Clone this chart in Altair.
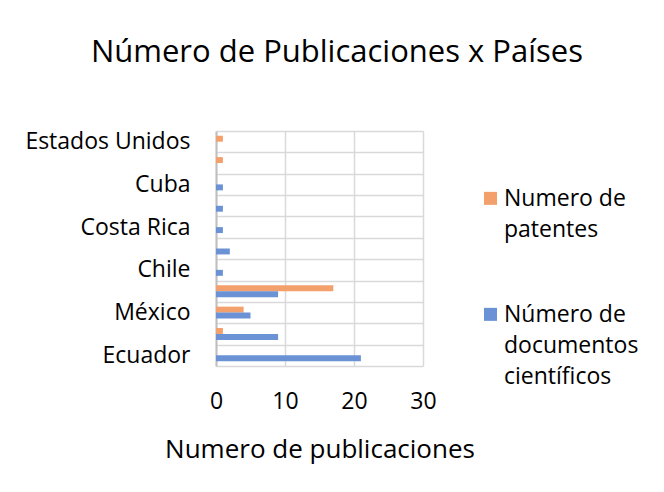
import json
import altair as alt
import pandas as pd

# ---- data (top to bottom, as in the picture) ----
countries = ["Estados Unidos", "España", "Cuba", "Colombia", "Costa Rica",
             "Argentina", "Chile", "Brasil", "México", "Perú", "Ecuador"]
shown_labels = ["Estados Unidos", "Cuba", "Costa Rica", "Chile", "México", "Ecuador"]
patentes = [1, 1, 0, 0, 0, 0, 0, 17, 4, 1, 0]
documentos = [0, 0, 1, 1, 1, 2, 1, 9, 5, 9, 21]
series = ["Numero de patentes", "Número de documentos científicos"]
legend_lines = [["Numero de", "patentes"], ["Número de", "documentos", "científicos"]]
colors = ["#F4A06C", "#6A92D4"]
x_ticks = [0, 10, 20, 30]

rows = []
for c, p, d in zip(countries, patentes, documentos):
    rows.append({"pais": c, "serie": series[0], "valor": p})
    rows.append({"pais": c, "serie": series[1], "valor": d})
df = pd.DataFrame(rows)

FONT = "Open Sans"
y_label_expr = "indexof(%s, datum.label) >= 0 ? datum.label : ''" % json.dumps(shown_labels)
leg_expr = "datum.label == %s ? %s : %s" % (
    json.dumps(series[0]), json.dumps(legend_lines[0]), json.dumps(legend_lines[1]))

# square symbol shifted up so it lines up with the first label line
symbol_path = "M-1,-2.1L1,-2.1L1,-0.1L-1,-0.1Z"

chart = alt.Chart(df).mark_bar().encode(
    x=alt.X("valor:Q",
            scale=alt.Scale(domain=[0, 30]),
            axis=alt.Axis(values=x_ticks, title="Numero de publicaciones", grid=True,
                          domain=False, ticks=False, labelFontSize=23, titleFontSize=26,
                          labelFlush=False, labelPadding=24, titlePadding=23,
                          gridColor="#d9d9d9", gridWidth=1.5, labelColor="#000000",
                          titleColor="#000000", titleFontWeight="normal",
                          labelFont=FONT, titleFont=FONT)),
    y=alt.Y("pais:N", sort=countries,
            scale=alt.Scale(paddingInner=0, paddingOuter=0),
            axis=alt.Axis(title=None, tickBand="extent", grid=True, ticks=False,
                          domain=True, domainColor="#bfbfbf", domainWidth=2,
                          gridColor="#d9d9d9", gridWidth=1.5,
                          labelExpr=y_label_expr, labelFontSize=23, labelPadding=26,
                          labelLimit=300, labelColor="#000000", labelFont=FONT)),
    yOffset=alt.YOffset("serie:N", sort=series,
                        scale=alt.Scale(paddingOuter=0.8, paddingInner=0)),
    color=alt.Color("serie:N", sort=series,
                    scale=alt.Scale(domain=series, range=colors),
                    legend=alt.Legend(title=None, orient="none", legendX=263, legendY=63,
                                      symbolType=symbol_path, symbolSize=169,
                                      symbolStrokeWidth=0, labelExpr=leg_expr,
                                      labelBaseline="alphabetic", labelFontSize=23,
                                      labelFont=FONT, labelColor="#000000",
                                      labelOffset=2, rowPadding=61, padding=0,
                                      labelLimit=300)),
).properties(
    width=207,
    height=235,
    title=alt.TitleParams("Número de Publicaciones x Países", fontSize=31, font=FONT,
                          fontWeight="normal", anchor="middle", frame="bounds",
                          baseline="alphabetic", offset=27, dx=5, color="#000000"),
    autosize=alt.AutoSizeParams(type="none"),
    padding={"left": 208, "top": 123, "right": 233, "bottom": 118},
).configure(
    view=alt.ViewConfig(stroke=None),
    style={"guide-label": {"lineHeight": 31}},
)

chart.save("out.html", embed_options={"renderer": "svg", "actions": False})
